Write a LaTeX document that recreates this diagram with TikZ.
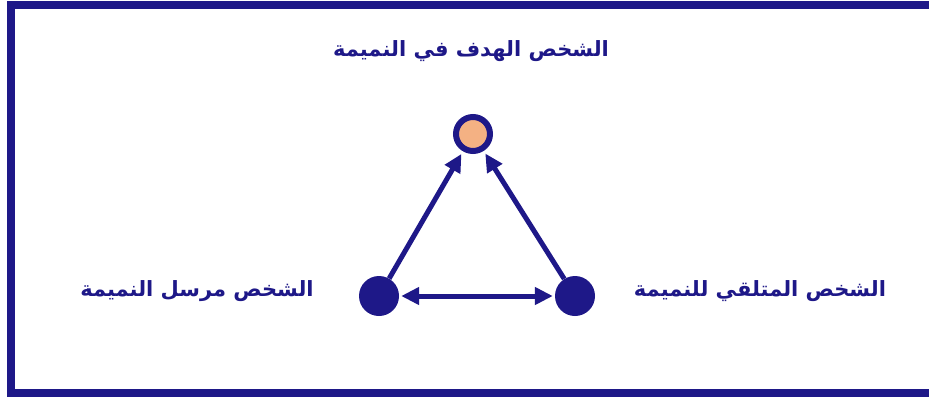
\documentclass[tikz,border=0pt]{standalone}
\usepackage{fontspec}
\TeXXeTstate=1
\newfontfamily\arabicfont[Script=Arabic]{DejaVu Sans}
\usetikzlibrary{arrows.meta}
\definecolor{navy}{RGB}{30,24,136}
\definecolor{peach}{RGB}{244,177,131}
\tikzset{
  frameline/.style={draw=navy,line width=8pt},
  target/.style={circle,draw=navy,fill=peach,line width=6pt,minimum size=34pt,inner sep=0pt},
  person/.style={circle,fill=navy,minimum size=40pt,inner sep=0pt},
  conn/.style={draw=navy,line width=5pt,-{Triangle[length=18pt,width=17pt]}},
  lbl/.style={text=navy,font=\arabicfont\bfseries\fontsize{21}{24}\selectfont,inner sep=0pt}
}
\begin{document}
\begin{tikzpicture}[x=1pt,y=-1pt]
\useasboundingbox (0,0) rectangle (929,400);
\fill[white] (0,0) rectangle (929,400);
\draw[frameline] (929,5) -- (11,5) -- (11,393) -- (929,393);
\node[target] (t) at (473,134) {};
\node[person] (l) at (379,296) {};
\node[person] (r) at (575,296) {};
\draw[conn,shorten >=3pt] (l) -- (t);
\draw[conn,shorten >=3pt] (r) -- (t);
\draw[conn,{Triangle[length=18pt,width=17pt]}-{Triangle[length=18pt,width=17pt]},shorten <=2pt,shorten >=2pt] (l) -- (r);
\node[lbl] (tl) at (471,51) {\beginR الشخص الهدف في النميمة\endR};
\node[lbl] (ll) at (197,291) {\beginR الشخص مرسل النميمة\endR};
\node[lbl] (rl) at (760,291) {\beginR الشخص المتلقي للنميمة\endR};
\end{tikzpicture}
\end{document}
